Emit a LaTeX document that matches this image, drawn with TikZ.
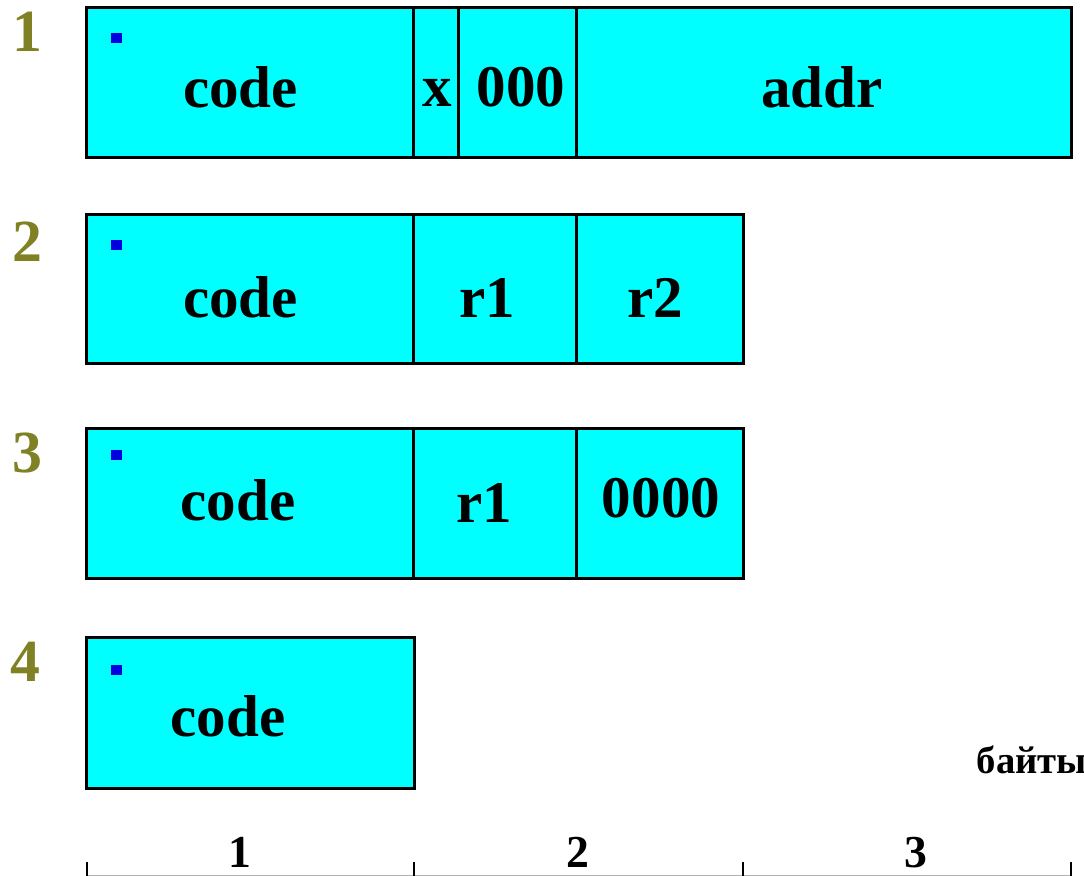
\documentclass[tikz,border=0pt]{standalone}
\usepackage{fontspec}
\setmainfont{Liberation Serif}
\usetikzlibrary{positioning}
\definecolor{cellcyan}{RGB}{0,255,255}
\definecolor{numolive}{RGB}{128,128,36}
\definecolor{dotblue}{RGB}{0,0,225}

\begin{document}
\begin{tikzpicture}[x=0.01cm, y=-0.01cm]
\tikzstyle{cell} = [draw, line width=0.85pt, fill=cellcyan, inner sep=0pt]
\tikzstyle{field} = [anchor=base, inner sep=0pt, font=\fontsize{16.8}{17}\selectfont\bfseries]
\tikzstyle{fmtnum} = [anchor=base, inner sep=0pt, text=numolive, font=\fontsize{17}{17}\selectfont\bfseries]
\tikzstyle{marker} = [fill=dotblue, inner sep=0pt, minimum size=0.1cm]
\tikzstyle{scalenum} = [anchor=base, inner sep=0pt, font=\fontsize{13}{13}\selectfont\bfseries]
\useasboundingbox (0,0) rectangle (1084,876);

% format 1: code | x | 000 | addr
\node[fmtnum] at (27,52) (n1) {1};
\node[cell, minimum width=3.27cm, minimum height=1.49cm] at (250.5,82.5) (code1) {};
\node[cell, minimum width=0.45cm, minimum height=1.49cm] at (436.5,82.5) (x1) {};
\node[cell, minimum width=1.18cm, minimum height=1.49cm] at (518,82.5) (zero1) {};
\node[cell, minimum width=4.94cm, minimum height=1.49cm] at (824,82.5) (addr1) {};
\node[field] at (240.5,108) (tcode1) {code};
\node[field] at (437,107) (tx1) {x};
\node[field] at (521,107) (tzero1) {000};
\node[field] at (822,108) (taddr1) {addr};

% format 2: code | r1 | r2
\node[fmtnum] at (27,262) (n2) {2};
\node[cell, minimum width=3.27cm, minimum height=1.48cm] at (250.5,289) (code2) {};
\node[cell, minimum width=1.63cm, minimum height=1.48cm] at (495.5,289) (ra2) {};
\node[cell, minimum width=1.66cm, minimum height=1.48cm] at (660,289) (rb2) {};
\node[field] at (240.5,318) (tcode2) {code};
\node[field] at (487,318) (tra2) {r1};
\node[field] at (655,318) (trb2) {r2};

% format 3: code | r1 | 0000
\node[fmtnum] at (27,472) (n3) {3};
\node[cell, minimum width=3.27cm, minimum height=1.49cm] at (250.5,503.5) (code3) {};
\node[cell, minimum width=1.63cm, minimum height=1.49cm] at (495.5,503.5) (ra3) {};
\node[cell, minimum width=1.66cm, minimum height=1.49cm] at (660,503.5) (zero3) {};
\node[field] at (238,521) (tcode3) {code};
\node[field] at (484,522) (tra3) {r1};
\node[field] at (661,518) (tzero3) {0000};

% format 4: code only
\node[fmtnum] at (25,682) (n4) {4};
\node[cell, minimum width=3.27cm, minimum height=1.50cm] at (250.5,713) (code4) {};
\node[field] at (228,737) (tcode4) {code};

% blue markers
\node[marker] at (116.5,38.5) (dot1) {};
\node[marker] at (116.5,245) (dot2) {};
\node[marker] at (116.5,455) (dot3) {};
\node[marker] at (116.5,670) (dot4) {};

% byte scale
\node[anchor=base west, inner sep=0pt, font=\fontsize{11}{11}\selectfont\bfseries] at (976,773) (bytes) {байты};
\coordinate (axl) at (87,875.5);
\coordinate (axr) at (1071,875.5);
\draw[black!30, line width=0.4pt] (axl) -- (axr);
\foreach \tx in {87,414,743,1071}
  \draw[line width=0.7pt] (\tx,862) -- (\tx,876);
\node[scalenum] at (240,867) (b1) {1};
\node[scalenum] at (578,867) (b2) {2};
\node[scalenum] at (916,867) (b3) {3};
\end{tikzpicture}
\end{document}
